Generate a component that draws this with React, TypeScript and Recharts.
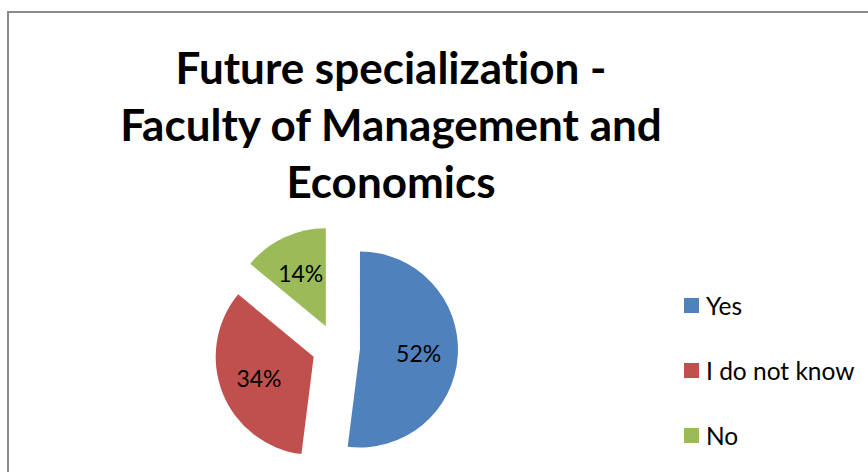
import { PieChart, Pie, Cell, Legend, Sector } from "recharts";

const categories = ["Yes", "I do not know", "No"];
const shares = [52, 34, 14];
const colors = ["#4F81BD", "#C0504D", "#9BBB59"];
const titleLines = ["Future specialization -", "Faculty of Management and", "Economics"];

const data = categories.map((name, i) => ({ name, value: shares[i] }));

const RAD = Math.PI / 180;
const EXPLODE = 24;
const FONT = "Lato, 'Open Sans', sans-serif";

// every slice pulled out from the centre along its mid angle
function explodedSlice(props: any) {
  const { cx, cy, midAngle } = props;
  const dx = EXPLODE * Math.cos(-midAngle * RAD);
  const dy = EXPLODE * Math.sin(-midAngle * RAD);
  return <Sector {...props} cx={cx + dx} cy={cy + dy} stroke="none" />;
}

function sliceLabel(props: any) {
  const { cx, cy, midAngle, outerRadius, percent } = props;
  const r = EXPLODE + outerRadius * 0.6;
  const x = cx + r * Math.cos(-midAngle * RAD);
  const y = cy + r * Math.sin(-midAngle * RAD);
  return (
    <text x={x} y={y} textAnchor="middle" dominantBaseline="central" fill="#000" fontSize={23} fontFamily={FONT}>
      {`${Math.round(percent * 100)}%`}
    </text>
  );
}

function LegendList({ payload }: any) {
  const items = [...(payload || [])].sort(
    (a: any, b: any) => categories.indexOf(a.value) - categories.indexOf(b.value)
  );
  return (
    <div style={{ fontFamily: FONT, fontSize: 24.5, color: "#000" }}>
      {items.map((item: any, i: number) => (
        <div key={i} style={{ display: "flex", alignItems: "center", height: 30, marginBottom: 35, whiteSpace: "nowrap" }}>
          <span style={{ width: 15, height: 15, background: item.color, marginRight: 7, display: "inline-block", flexShrink: 0 }} />
          <span>{item.value}</span>
        </div>
      ))}
    </div>
  );
}

export default function App() {
  return (
    <div style={{ position: "absolute", left: 0, top: 0, width: 868, height: 472, overflow: "hidden", background: "#fff" }}>
      <div style={{ position: "absolute", left: 7, top: 11, width: 900, height: 500, border: "2px solid #8a8a8a", boxSizing: "border-box" }} />
      <svg width={868} height={472} style={{ position: "absolute", left: 0, top: 0 }}>
        {titleLines.map((t, i) => (
          <text
            key={i}
            x={391}
            y={[84, 141, 198][i]}
            textAnchor="middle"
            fontFamily={FONT}
            fontWeight="bold"
            fontSize={44}
            fill="#000"
            style={{ fontVariantLigatures: "none" }}
          >
            {t}
          </text>
        ))}
      </svg>
      <div style={{ position: "absolute", left: 0, top: 0 }}>
        <PieChart width={868} height={472} margin={{ top: 0, right: 0, bottom: 0, left: 0 }}>
          <Pie
            data={data}
            dataKey="value"
            nameKey="name"
            cx={336}
            cy={348}
            outerRadius={98}
            startAngle={90}
            endAngle={-270}
            shape={explodedSlice}
            label={sliceLabel}
            labelLine={false}
            isAnimationActive={false}
          >
            {data.map((_, i) => (
              <Cell key={i} fill={colors[i]} />
            ))}
          </Pie>
          <Legend
            layout="vertical"
            align="right"
            verticalAlign="middle"
            content={<LegendList />}
            wrapperStyle={{ position: "absolute", left: 684, top: 290, width: 184 }}
          />
        </PieChart>
      </div>
    </div>
  );
}
